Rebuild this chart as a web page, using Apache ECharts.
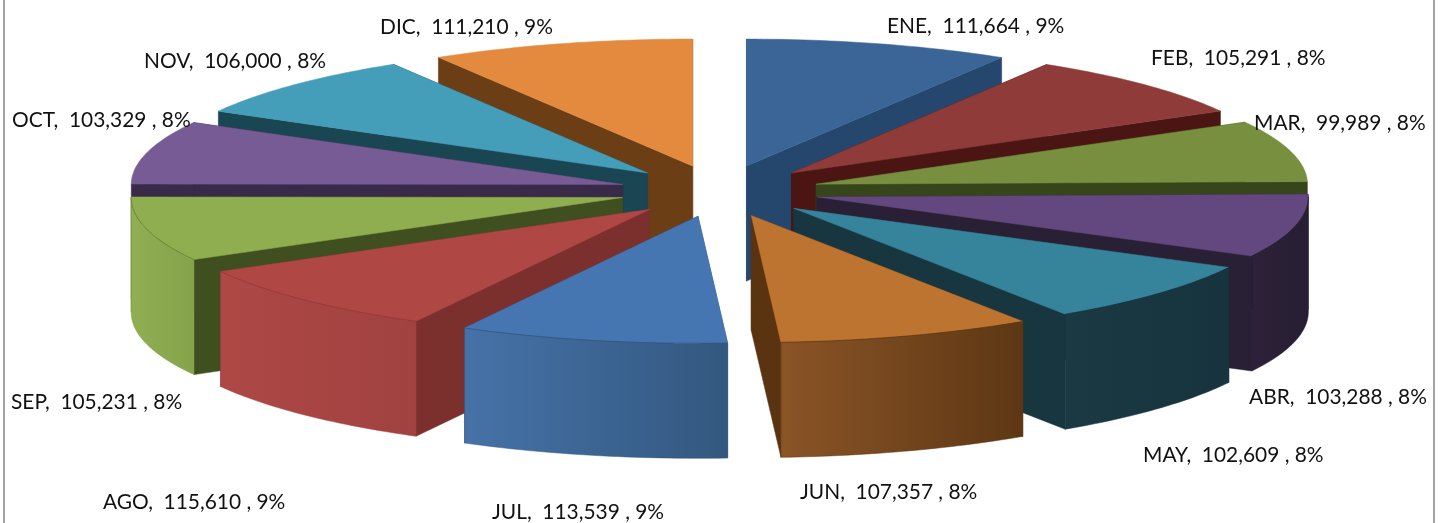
<!DOCTYPE html>
<html><head><meta charset="utf-8">
<style>html,body{margin:0;padding:0;background:#fff}#c{width:1444px;height:523px}</style>
<script src="https://cdn.jsdelivr.net/npm/echarts@6/dist/echarts.min.js"></script>
</head><body><div id="c"></div>
<script>
const months = ['ENE','FEB','MAR','ABR','MAY','JUN','JUL','AGO','SEP','OCT','NOV','DIC'];
const values = [111664,105291,99989,103288,102609,107357,113539,115610,105231,103329,106000,111210];
const topColors  = ['#3a6596','#8e3b39','#788f40','#62487e','#36839c','#bd7430','#4676b1','#af4745','#8fae50','#775b95','#449db9','#e38a3e'];
const sideColors = ['#26476d','#4a1513','#37451b','#2a2036','#17363f','#5a3411','#2f5078','#7c302e','#3f4f1f','#3a2a4a','#1a4653','#6b3e16'];
const wallFrom   = ['#26476d','#4a1513','#37451b','#2c2138','#1a3943','#8a5426','#4672a8','#ad4845','#90ae52','#3a2a4a','#1a4653','#6b3e16'];
const wallTo     = ['#26476d','#4a1513','#37451b','#281e33','#17343e','#5d3714','#33587f','#a14240','#85a34a','#3a2a4a','#1a4653','#6b3e16'];
// label anchors (left edge, vertical middle), in page pixels
const labelAnchors = [[887,26],[1151,58],[1254,123],[1249,397],[1143,455],[800,492],[492,512],[103,502],[11,402],[12,120],[144,61],[380,27]];

const CX=719.5, CY=191, R=491.5, SQUASH=0.2585, EXPLODE=100, DEPTH=115;
const total = values.reduce((a,b)=>a+b,0);
const starts=[]; values.reduce((acc,v,i)=>{starts[i]=acc/total*360;return acc+v;},0);
const rad=d=>d*Math.PI/180;
const fmt=v=>String(v).replace(/\B(?=(\d{3})+$)/g,',');
// back slices are painted first
const order = months.map((_,i)=>i).sort((a,b)=>{
  const mid=i=>starts[i]+values[i]/total*180;
  return Math.cos(rad(mid(b)))-Math.cos(rad(mid(a)));
});
function renderSlice(params, api){
  const v=api.value(0), i=api.value(1);
  const a0=starts[i], sweep=v/total*360, a1=a0+sweep, mid=a0+sweep/2;
  const ax=CX+EXPLODE*Math.sin(rad(mid)), ay=CY-EXPLODE*SQUASH*Math.cos(rad(mid));
  const pt=(a,z)=>[ax+R*Math.sin(rad(a)), ay-R*SQUASH*Math.cos(rad(a))+z];
  const arc=(from,to,z)=>{const out=[];const n=Math.max(2,Math.ceil(Math.abs(to-from)));
    for(let k=0;k<=n;k++)out.push(pt(from+(to-from)*k/n,z));return out;};
  const children=[];
  const radial=a=>({type:'polygon',shape:{points:[[ax,ay],pt(a,0),pt(a,DEPTH),[ax,ay+DEPTH]]},
    style:{fill:sideColors[i],stroke:sideColors[i],lineWidth:0.5}});
  children.push(radial(a0),radial(a1));
  const w0=Math.max(a0,90), w1=Math.min(a1,270);
  children.push({type:'polygon',shape:{points:[[ax,ay]].concat(arc(a0,a1,0))},
    style:{fill:topColors[i],stroke:topColors[i],lineWidth:0.5}});
  if(w1>w0){
    const pts=arc(w0,w1,0).concat(arc(w1,w0,DEPTH));
    children.push({type:'polygon',shape:{points:pts},style:{
      fill:new echarts.graphic.LinearGradient(0,0,1,0,
        [{offset:0,color:wallFrom[i]},{offset:1,color:wallTo[i]}]),
      stroke:wallTo[i],lineWidth:0.5}});
    children.push({type:'polyline',shape:{points:arc(w0,w1,0)},
      style:{fill:null,stroke:sideColors[i],lineWidth:0.7,opacity:0.4}});
  }
  return {type:'group',children};
}
function renderLabel(params, api){
  const i=api.value(1), v=api.value(0), p=labelAnchors[i];
  return {type:'text',x:p[0],y:p[1],style:{
    text:months[i]+',  '+fmt(v)+' , '+Math.round(v/total*100)+'%',
    fill:'#111',font:'20.9px Lato',textAlign:'left',textVerticalAlign:'middle'}};
}
const chart=echarts.init(document.getElementById('c'),null,{renderer:'canvas'});
chart.setOption({
  animation:false,
  backgroundColor:'#fff',
  graphic:[
    {type:'rect',shape:{x:3,y:0,width:2,height:523},style:{fill:'#a3a3a3'}},
    {type:'rect',shape:{x:1433,y:0,width:2,height:523},style:{fill:'#a3a3a3'}}
  ],
  series:[
    {type:'custom',coordinateSystem:'none',silent:true,renderItem:renderSlice,
     data:order.map(i=>[values[i],i]),z:2},
    {type:'custom',coordinateSystem:'none',silent:true,renderItem:renderLabel,
     data:values.map((v,i)=>[v,i]),z:3}
  ]
});
</script></body></html>
